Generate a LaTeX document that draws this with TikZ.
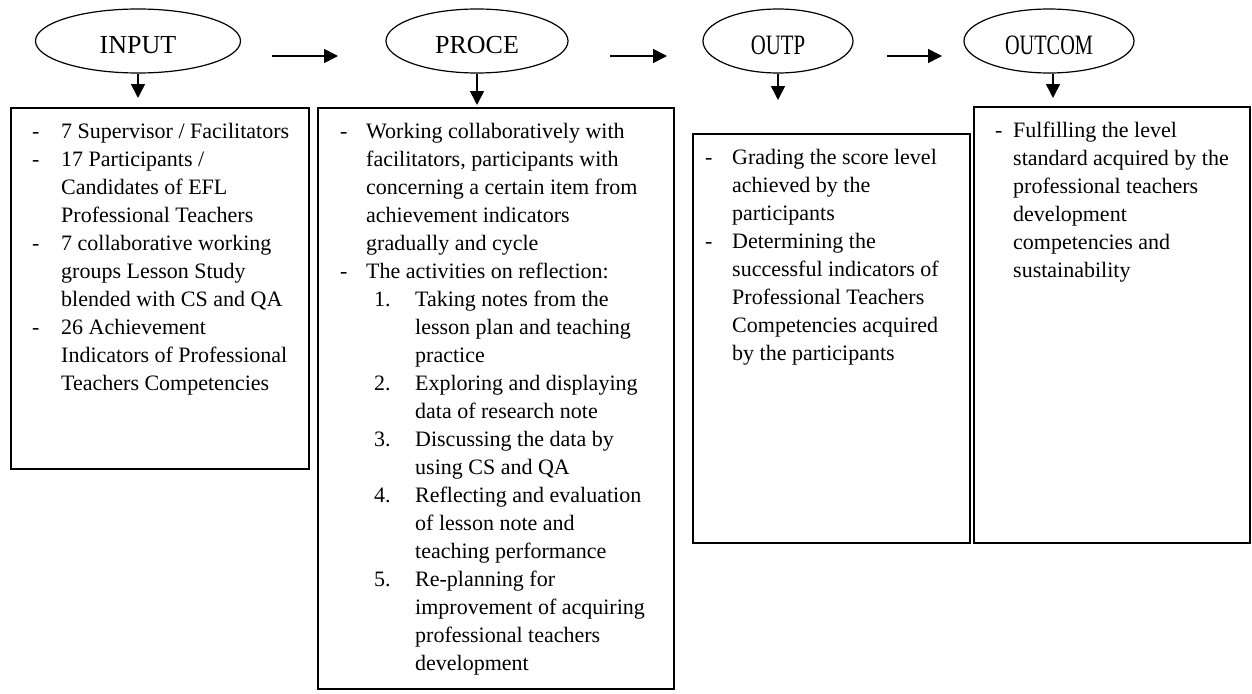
\documentclass[tikz,border=0pt]{standalone}
\usepackage{fontspec}
\setmainfont{Liberation Serif}
\usetikzlibrary{shapes.geometric,arrows.meta}
\newcommand\numit[1]{\makebox[49pt][l]{\hspace{8pt}#1}}
\newcommand\contit{\hspace*{49pt}}
\begin{document}
\begin{tikzpicture}[x=1pt,y=-1pt,
 ell/.style={draw, ellipse, line width=1.2pt, inner sep=0pt, minimum height=64pt},
 lbl/.style={font=\fontsize{26}{30}\selectfont, inner sep=0pt},
 boxst/.style={draw, rectangle, line width=1.5pt, inner sep=0pt, anchor=north west},
 txt/.style={font=\fontsize{22}{28}\selectfont, inner sep=0pt, anchor=north west},
 arr/.style={line width=1.6pt, -{Triangle[length=14pt,width=14pt]}},
]
\useasboundingbox (0,0) rectangle (1252,693);

% ellipses
\node[ell, minimum width=205pt] (in) at (138,41) {};
\node[ell, minimum width=182pt] (pr) at (477,41) {};
\node[ell, minimum width=150pt] (op) at (778,41) {};
\node[ell, minimum width=170pt] (oc) at (1049,41) {};
\node[lbl] (inT) at ([yshift=-4pt]in.center) {INPUT};
\node[lbl] (prT) at ([yshift=-4pt]pr.center) {PROCE};
\node[lbl] (opT) at ([yshift=-4pt]op.center) {\scalebox{0.8}[1.08]{OUTP}};
\node[lbl] (ocT) at ([yshift=-4pt]oc.center) {\scalebox{0.78}[1.08]{OUTCOM}};

% horizontal arrows
\coordinate (h1s) at (272,56); \coordinate (h1e) at (338,56);
\coordinate (h2s) at (610,56); \coordinate (h2e) at (667,56);
\coordinate (h3s) at (887,56); \coordinate (h3e) at (942,56);
\draw[arr] (h1s) -- (h1e);
\draw[arr] (h2s) -- (h2e);
\draw[arr] (h3s) -- (h3e);

% vertical arrows
\coordinate (inA) at (138,98);
\coordinate (prA) at (477,105);
\coordinate (opA) at (778,100);
\coordinate (ocA) at (1053,98);
\draw[arr] (in.south) -- (inA);
\draw[arr] (pr.south) -- (prA);
\draw[arr] (op.south) -- (opA);
\draw[arr] (ocA |- oc.south) -- (ocA);

% boxes
\node[boxst, minimum width=298pt, minimum height=361pt] (inbox) at (10,107) {};
\node[boxst, minimum width=356pt, minimum height=581pt] (prbox) at (317,107) {};
\node[boxst, minimum width=277pt, minimum height=409pt] (opbox) at (692,133) {};
\node[boxst, minimum width=276pt, minimum height=436pt] (ocbox) at (973,106) {};

% texts
\node[txt] (intext) at (32,118.4) {%
\begin{tabular}[t]{@{}p{29pt}@{}l@{}}
- & 7 Supervisor / Facilitators\\
- & 17 Participants /\\
  & Candidates of EFL\\
  & Professional Teachers\\
- & 7 collaborative working\\
  & groups Lesson Study\\
  & blended with CS and QA\\
- & 26 Achievement\\
  & Indicators of Professional\\
  & Teachers Competencies
\end{tabular}};

\node[txt] (prtext) at (340,118.4) {%
\begin{tabular}[t]{@{}p{26pt}@{}l@{}}
- & Working collaboratively with\\
  & facilitators, participants with\\
  & concerning a certain item from\\
  & achievement indicators\\
  & gradually and cycle\\
- & The activities on reflection:\\
  & \numit{1.}Taking notes from the\\
  & \contit lesson plan and teaching\\
  & \contit practice\\
  & \numit{2.}Exploring and displaying\\
  & \contit data of research note\\
  & \numit{3.}Discussing the data by\\
  & \contit using CS and QA\\
  & \numit{4.}Reflecting and evaluation\\
  & \contit of lesson note and\\
  & \contit teaching performance\\
  & \numit{5.}Re-planning for\\
  & \contit improvement of acquiring\\
  & \contit professional teachers\\
  & \contit development
\end{tabular}};

\node[txt] (optext) at (705,144.4) {%
\begin{tabular}[t]{@{}p{27pt}@{}l@{}}
- & Grading the score level\\
  & achieved by the\\
  & participants\\
- & Determining the\\
  & successful indicators of\\
  & Professional Teachers\\
  & Competencies acquired\\
  & by the participants
\end{tabular}};

\node[txt] (octext) at (995,117.4) {%
\begin{tabular}[t]{@{}p{18pt}@{}l@{}}
- & Fulfilling the level\\
  & standard acquired by the\\
  & professional teachers\\
  & development\\
  & competencies and\\
  & sustainability
\end{tabular}};
\end{tikzpicture}
\end{document}
